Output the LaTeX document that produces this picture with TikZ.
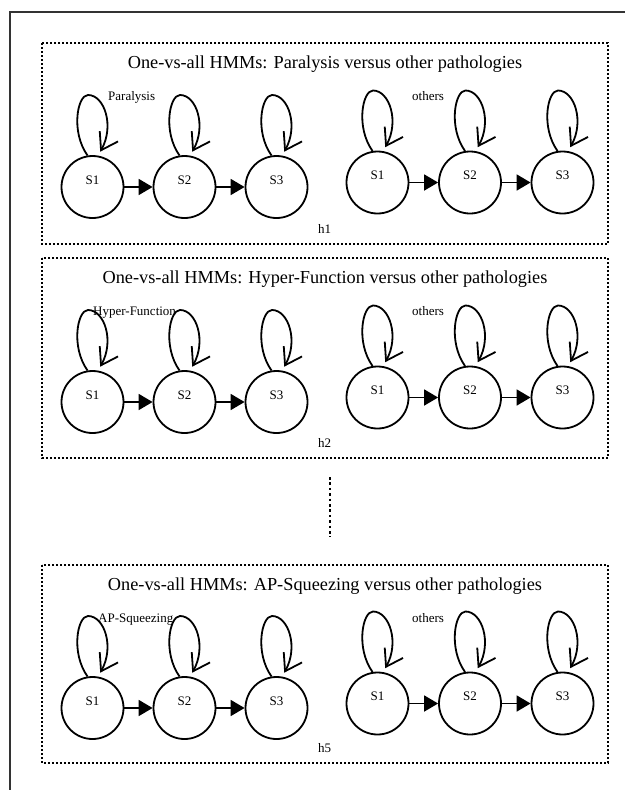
\documentclass[tikz,border=0pt]{standalone}
\usepackage{fontspec}
\setmainfont{Liberation Serif}
\usetikzlibrary{arrows.meta,calc}

\tikzset{
  hmmstate/.style={circle, draw, line width=1.8pt, minimum size=62pt, inner sep=0pt,
    font=\fontsize{13}{15}\selectfont, text height=9pt, text depth=15pt},
  fwd/.style={line width=1.8pt, -{Triangle[length=14pt,width=16pt]}},
  selfloop/.style={line width=1.8pt, -{Straight Barb[length=16pt,width=21pt]}, shorten >=4.5pt},
  panel/.style={line width=1.4pt, dash pattern=on 1.6pt off 2.4pt},
  gap/.style={line width=2.6pt, dash pattern=on 2.6pt off 2.8pt},
  paneltitle/.style={anchor=base, inner sep=0pt, font=\fontsize{18.3}{22}\selectfont},
  small/.style={anchor=base west, inner sep=0pt, font=\fontsize{13}{15}\selectfont},
}

% one left-to-right HMM with three states and self-transitions
% #1 name prefix, #2 x of S1, #3 y of the centres, #4 spacing
\newcommand\hmmrow[4]{%
  \foreach \k in {1,2,3} {
    \node[hmmstate] (#1\k) at ({#2+(\k-1)*#4},#3) {S\k};
  }
  \draw[fwd] (#11) -- (#12);
  \draw[fwd] (#12) -- (#13);
  \foreach \k in {1,2,3} {
    \draw[selfloop] (#1\k.99) .. controls +(-17,-24) and +(-10.5,0) ..
      ($(#1\k)+(-4.5,-92)$) .. controls +(16.5,0) and +(16.6,-29.5) .. (#1\k.80);
  }
}

\begin{document}
\begin{tikzpicture}[x=1pt,y=-1pt]
\useasboundingbox (0,0) rectangle (625,790);

% outer frame (top and left edges)
\draw[line width=2pt, black!80] (10,790) -- (10,12) -- (625,12);

% panel h1
\draw[panel] (42,43) rectangle (608,244);
\node[paneltitle] (t1) at (325,68.5) {One-vs-all HMMs: Paralysis versus other pathologies};
\node[small] (c1) at (108,100.5) {Paralysis};
\node[small] (o1) at (412,100.5) {others};
\node[small] (h1) at (318,233) {h1};
\hmmrow{a}{92.5}{187}{92}
\hmmrow{b}{377.5}{182.5}{92.5}

% panel h2
\draw[panel] (42,258) rectangle (608,458);
\node[paneltitle] (t2) at (325,283.5) {One-vs-all HMMs: Hyper-Function versus other pathologies};
\node[small] (c2) at (93,315) {Hyper-Function};
\node[small] (o2) at (412,315) {others};
\node[small] (h2) at (318,447) {h2};
\hmmrow{c}{92.5}{402}{92}
\hmmrow{d}{377.5}{397.5}{92.5}

% omitted panels
\draw[gap] (330,477) -- (330,537);

% panel h5
\draw[panel] (42,565) rectangle (608,763);
\node[paneltitle] (t5) at (325,590.5) {One-vs-all HMMs: AP-Squeezing versus other pathologies};
\node[small] (c5) at (98,622) {AP-Squeezing};
\node[small] (o5) at (412,622) {others};
\node[small] (h5) at (318,752) {h5};
\hmmrow{e}{92.5}{708}{92}
\hmmrow{f}{377.5}{703.5}{92.5}
\end{tikzpicture}
\end{document}
